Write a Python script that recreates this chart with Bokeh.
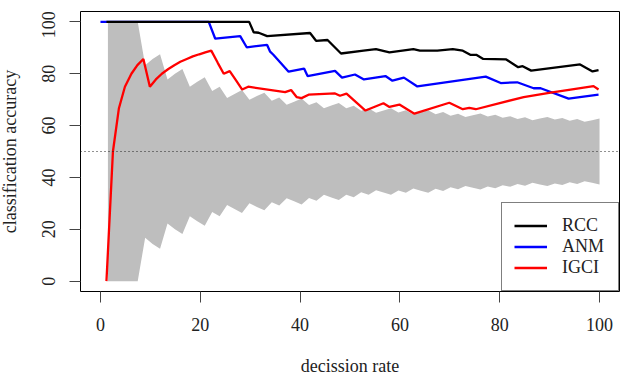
import numpy as np
from bokeh.plotting import figure
from bokeh.layouts import row
from bokeh.models import Range1d, FixedTicker, Span, Legend, LegendItem
from bokeh.core.properties import value
from bokeh.embed import file_html
from bokeh.resources import INLINE

# 95% binomial band for random guessing, one point per evaluated pair
band_n = np.arange(1, 68)
band_lower = [0, 0, 0, 0, 0, 16.7, 14.3, 12.5, 22.2, 20.0, 18.2, 25.0, 23.1, 21.4,
              26.7, 25.0, 29.4, 27.8, 26.3, 30.0, 28.6, 27.3, 30.4, 29.2, 32.0, 30.8,
              29.6, 32.1, 31.0, 33.3, 32.3, 31.3, 33.3, 32.4, 34.3, 33.3, 35.1, 34.2,
              33.3, 35.0, 34.1, 35.7, 34.9, 34.1, 35.6, 34.8, 36.2, 35.4, 36.7, 36.0,
              35.3, 36.5, 35.8, 37.0, 36.4, 37.5, 36.8, 37.9, 37.3, 36.7, 37.7, 37.1,
              38.1, 37.5, 38.5, 37.9, 37.3]
band_upper = [100, 100, 100, 100, 100, 83.3, 85.7, 87.5, 77.8, 80.0, 81.8, 75.0, 76.9,
              78.6, 73.3, 75.0, 70.6, 72.2, 73.7, 70.0, 71.4, 72.7, 69.6, 70.8, 68.0,
              69.2, 70.4, 67.9, 69.0, 66.7, 67.7, 68.7, 66.7, 67.6, 65.7, 66.7, 64.9,
              65.8, 66.7, 65.0, 65.9, 64.3, 65.1, 65.9, 64.4, 65.2, 63.8, 64.6, 63.3,
              64.0, 64.7, 63.5, 64.2, 63.0, 63.6, 62.5, 63.2, 62.1, 62.7, 63.3, 62.3,
              62.9, 61.9, 62.5, 61.5, 62.1, 62.7]
band_x = band_n * 100.0 / len(band_n)

# accuracy curves (decision rate in %, accuracy in %)
rcc_x = [1.2, 29.8, 30.7, 31.7, 33.4, 42.0, 43.2, 45.5, 48.2, 52.7, 55.2, 57.9, 62.7,
         64.0, 67.5, 70.6, 72.6, 74.1, 75.3, 76.7, 81.3, 83.7, 84.6, 86.3, 96.1, 98.6, 99.8]
rcc_y = [100, 100, 96.0, 95.8, 94.5, 95.7, 92.7, 93.0, 87.8, 88.9, 89.5, 88.2, 89.5,
         88.9, 88.9, 89.5, 88.9, 87.3, 87.3, 85.7, 85.5, 82.5, 82.9, 81.2, 83.6, 80.9, 81.4]

anm_x = [0, 21.7, 23.0, 28.0, 29.3, 33.4, 34.0, 34.6, 37.7, 40.8, 41.5, 47.0, 48.4,
         51.0, 52.8, 57.1, 58.5, 60.8, 63.5, 77.2, 80.2, 83.5, 86.8, 88.2, 93.8, 99.8]
anm_y = [100, 100, 93.5, 94.5, 90.2, 91.1, 88.5, 87.4, 80.8, 82.0, 79.1, 81.1, 78.5,
         79.7, 77.8, 79.1, 77.3, 78.5, 75.1, 78.9, 76.4, 76.7, 74.4, 74.4, 70.4, 71.9]

igci_x = [1.2, 2.5, 3.7, 4.9, 6.2, 7.4, 8.6, 9.9, 11.1, 12.3, 13.6, 14.8, 16.0, 17.3,
          18.5, 19.8, 21.0, 22.2, 23.5, 24.7, 25.9, 27.2, 28.4, 29.6, 37.0, 38.2, 39.3,
          40.3, 41.7, 47.0, 48.0, 49.3, 53.1, 56.7, 57.9, 59.9, 62.9, 69.9, 72.6, 73.9,
          75.2, 84.8, 90.2, 94.2, 98.8, 99.8]
igci_y = [0, 50, 66.7, 75, 80, 83.3, 85.7, 75, 77.8, 80, 81.8, 83.3, 84.6, 85.7,
          86.7, 87.5, 88.2, 88.9, 84.2, 80, 81, 77.3, 73.9, 75, 72.9, 73.7, 71.0,
          70.6, 71.9, 72.4, 71.5, 72.3, 65.8, 68.6, 67.2, 68.1, 64.6, 68.8, 66.3, 66.8,
          66.3, 71.0, 72.7, 73.9, 75.2, 73.9]

x_ticks = [0, 20, 40, 60, 80, 100]
y_ticks = [0, 20, 40, 60, 80, 100]
y_tick_labels = [str(t) for t in y_ticks]
y_title = "classification accuracy"

X_MIN, X_MAX = -4, 104
Y_MIN, Y_MAX = -4, 104

FONT = "Liberation Serif"
FSIZE = "18px"
TEXT_COLOR = "#222222"

# page geometry (pixels)
W, H = 625, 378
GUTTER = 69           # strip holding the rotated y labels and y title
TICK_LEN = 11
BORDER_TOP, BORDER_BOTTOM, BORDER_RIGHT = 11, 86, 6

y_range = Range1d(Y_MIN, Y_MAX)

# ---- main panel -------------------------------------------------------------
p = figure(width=W - GUTTER, height=H, output_backend="svg", toolbar_location=None,
           x_range=Range1d(X_MIN, X_MAX), y_range=y_range,
           min_border_left=TICK_LEN, min_border_right=BORDER_RIGHT,
           min_border_top=BORDER_TOP, min_border_bottom=BORDER_BOTTOM)
p.grid.visible = False
p.outline_line_color = "black"
p.outline_line_width = 1
p.background_fill_color = "white"
p.border_fill_color = "white"

for ax in (p.xaxis[0], p.yaxis[0]):
    ax.axis_line_color = None
    ax.major_tick_in = 0
    ax.major_tick_out = TICK_LEN
    ax.major_tick_line_color = "#444444"
    ax.minor_tick_line_color = None
    ax.major_label_text_font = FONT
    ax.major_label_text_font_size = FSIZE
    ax.major_label_text_color = TEXT_COLOR
    ax.axis_label_text_font = FONT
    ax.axis_label_text_font_size = FSIZE
    ax.axis_label_text_font_style = "normal"
    ax.axis_label_text_color = TEXT_COLOR

p.xaxis.ticker = FixedTicker(ticks=x_ticks)
p.yaxis.ticker = FixedTicker(ticks=y_ticks)
p.xaxis.axis_label = "decission rate"
p.xaxis.major_label_standoff = 15
p.xaxis.axis_label_standoff = 22

# the y axis keeps only its ticks; its labels live in the strip on the left
p.yaxis.major_label_text_alpha = 0
p.yaxis.major_label_standoff = 0

p.varea(x=band_x, y1=band_lower, y2=band_upper, fill_color="#BEBEBE")
p.add_layout(Span(location=50, dimension="width", line_color="#222222",
                  line_width=1.2, line_dash="1 3"))

r_anm = p.line(anm_x, anm_y, line_color="#0000FF", line_width=2.3)
r_igci = p.line(igci_x, igci_y, line_color="#FF0000", line_width=2.3)
r_rcc = p.line(rcc_x, rcc_y, line_color="#000000", line_width=2.3)

legend = Legend(items=[LegendItem(label="RCC", renderers=[r_rcc]),
                       LegendItem(label="ANM", renderers=[r_anm]),
                       LegendItem(label="IGCI", renderers=[r_igci])],
                location="bottom_right", margin=0, padding=12, spacing=0,
                glyph_width=33, glyph_height=21, label_height=21, label_width=44,
                label_standoff=15, label_text_font=FONT, label_text_font_size=FSIZE,
                label_text_color=TEXT_COLOR, border_line_color="black",
                border_line_width=1, background_fill_color="white",
                background_fill_alpha=1.0)
p.add_layout(legend)

# ---- left strip: rotated y tick labels and y title --------------------------
# same height, borders and y range as the main panel, so values line up
s = figure(width=GUTTER, height=H, output_backend="svg", toolbar_location=None,
           x_range=Range1d(0, GUTTER), y_range=y_range,
           x_axis_location=None, y_axis_location=None,
           min_border_left=0, min_border_right=0,
           min_border_top=BORDER_TOP, min_border_bottom=BORDER_BOTTOM)
s.grid.visible = False
s.outline_line_color = None
s.background_fill_color = "white"
s.border_fill_color = "white"

LABEL_X = 48   # centre of the rotated tick labels, px from the page edge
TITLE_X = 9    # centre of the rotated axis title
# nudge (px, downwards) keeping the top label inside the strip's drawing area
label_nudge = [0, 0, 0, 0, 0, 3]
s.text(x=[LABEL_X] * len(y_ticks), y=y_ticks, text=y_tick_labels, angle=np.pi / 2,
       y_offset=label_nudge, text_align="center", text_baseline="middle",
       text_font=value(FONT), text_font_size=value(FSIZE), text_color=TEXT_COLOR)
s.text(x=[TITLE_X], y=[(Y_MIN + Y_MAX) / 2], text=[y_title], angle=np.pi / 2,
       text_align="center", text_baseline="middle", text_font=value(FONT),
       text_font_size=value(FSIZE), text_color=TEXT_COLOR)

layout = row(s, p, spacing=0)
open("out.html", "w").write(file_html(layout, INLINE))
